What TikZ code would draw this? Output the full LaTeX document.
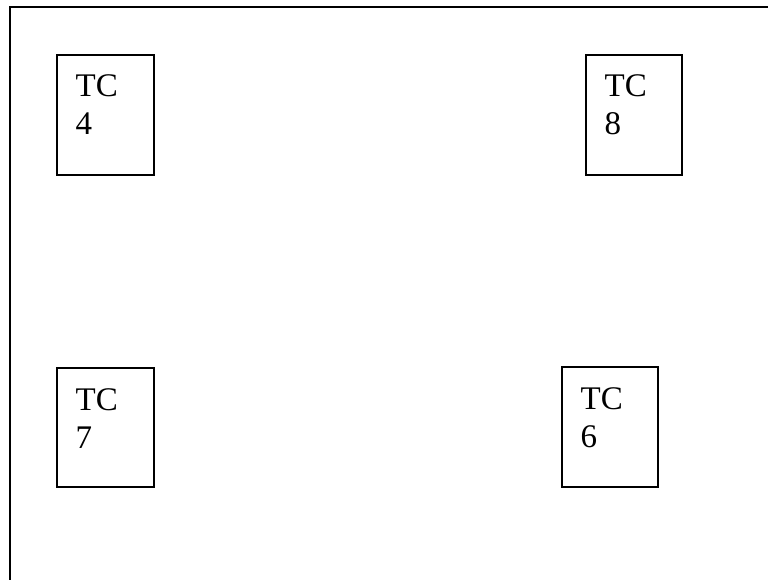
\documentclass[tikz,border=0pt]{standalone}
\usepackage{fontspec}
\setmainfont{Liberation Serif}
\usetikzlibrary{calc}
\begin{document}
\begin{tikzpicture}[x=1pt,y=-1pt,
  tcbox/.style={draw=black, line width=2pt, inner sep=0pt, minimum width=97pt, minimum height=120pt},
  tclabel/.style={font=\fontsize{33}{38}\selectfont, align=left, inner sep=0pt, anchor=base west},
  frame/.style={draw=black, line width=2.2pt}]
\useasboundingbox (0,0) rectangle (768,580);
\coordinate (ftl) at (10,7);
\coordinate (ftr) at (770,7);
\coordinate (fbl) at (10,582);
\draw[frame] (ftr) -- (ftl) -- (fbl);
\node[tcbox] (tc4) at (105.5,115) {};
\node[tcbox, minimum width=96pt] (tc8) at (634,115) {};
\node[tcbox, minimum height=119pt] (tc7) at (105.5,427.5) {};
\node[tcbox, minimum width=96pt] (tc6) at (610,427) {};
\node[tclabel] (l4) at ($(tc4.north west)+(19.5,81)$) {TC\\4};
\node[tclabel] (l8) at ($(tc8.north west)+(19.5,81)$) {TC\\8};
\node[tclabel] (l7) at ($(tc7.north west)+(19.5,81)$) {TC\\7};
\node[tclabel] (l6) at ($(tc6.north west)+(19.5,81)$) {TC\\6};
\end{tikzpicture}
\end{document}
